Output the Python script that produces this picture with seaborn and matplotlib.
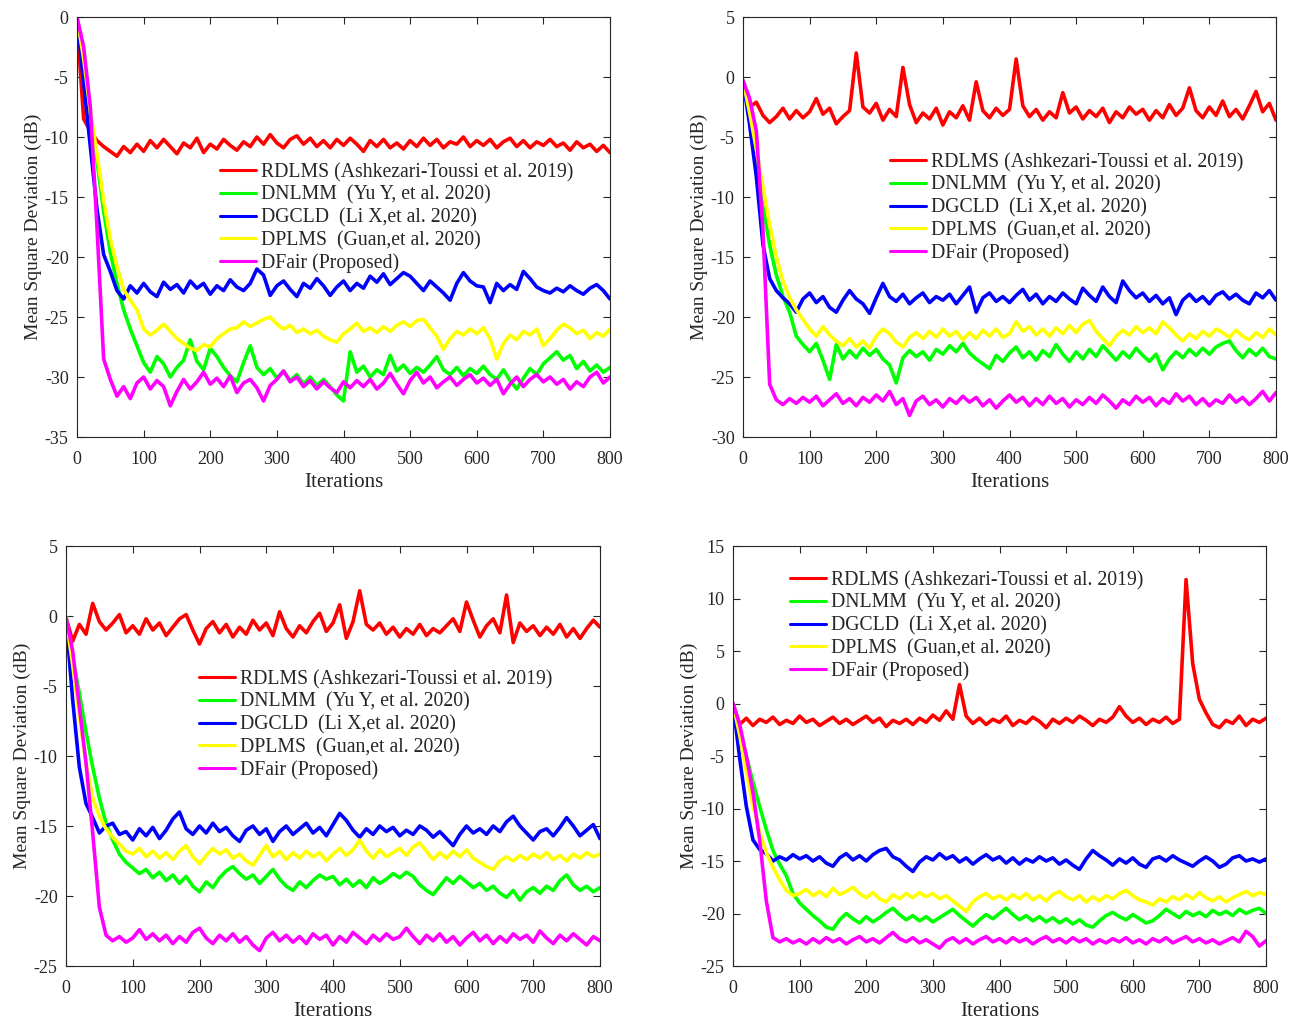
import numpy as np
import pandas as pd
import matplotlib
matplotlib.use("Agg")
import matplotlib.pyplot as plt
import seaborn as sns

iters = list(range(0, 801, 10))

methods = ["RDLMS (Ashkezari-Toussi et al. 2019)",
           "DNLMM  (Yu Y, et al. 2020)",
           "DGCLD  (Li X,et al. 2020)",
           "DPLMS  (Guan,et al. 2020)",
           "DFair (Proposed)"]
colors = ["#ff0000", "#00ff00", "#0000ff", "#ffff00", "#ff00ff"]

# ---- panel 1 (top left) ----
p1_rdlms = [-0.5, -8.5, -9.5, -10.3, -10.8, -11.2, -11.6, -10.8, -11.3, -10.6, -11.2, -10.3, -10.9, -10.2, -10.8,
            -11.4, -10.5, -10.9, -10.1, -11.3, -10.6, -11.0, -10.2, -10.7, -11.1, -10.4, -10.8, -10.0, -10.6, -9.8,
            -10.5, -10.9, -10.2, -9.9, -10.6, -10.1, -10.8, -10.3, -10.9, -10.2, -10.7, -10.1, -10.6, -11.2, -10.3,
            -10.8, -10.2, -10.9, -10.5, -11.0, -10.3, -10.8, -10.1, -10.7, -10.2, -10.9, -10.4, -10.6, -10.0, -10.8,
            -10.3, -10.7, -10.2, -10.9, -10.4, -10.1, -10.8, -10.3, -10.9, -10.4, -10.7, -10.2, -10.8, -10.5, -11.1,
            -10.4, -10.9, -10.6, -11.2, -10.7, -11.3]
p1_dnlmm = [0, -4, -8, -12, -16.2, -19.6, -22.2, -24.4, -26.0, -27.4, -28.8, -29.6, -28.3, -28.9, -30.0, -29.2,
            -28.6, -26.9, -28.7, -29.4, -27.6, -28.3, -29.2, -29.9, -30.4, -28.8, -27.4, -29.2, -29.8, -29.3, -30.1,
            -29.5, -30.3, -29.8, -30.6, -30.0, -30.7, -30.2, -30.8, -31.5, -32.0, -27.9, -29.6, -29.1, -30.0, -29.4,
            -29.8, -28.2, -29.5, -29.0, -29.7, -29.2, -29.6, -29.0, -28.3, -29.4, -29.8, -29.2, -29.9, -29.3, -29.7,
            -29.1, -29.8, -30.2, -29.4, -30.3, -31.0, -30.1, -29.3, -29.8, -28.9, -28.4, -27.9, -28.6, -28.2, -29.3,
            -28.7, -29.5, -29.0, -29.6, -29.2]
p1_dgcld = [0, -5.5, -10.8, -16, -19.8, -21.2, -22.8, -23.5, -22.4, -23.0, -22.2, -22.9, -23.3, -22.1, -22.7,
            -22.3, -23.0, -22.0, -22.6, -22.2, -23.1, -22.4, -22.8, -21.9, -22.5, -22.8, -22.2, -21.0, -21.5, -23.2,
            -22.4, -22.0, -22.7, -23.3, -22.2, -22.6, -21.8, -22.4, -23.2, -22.5, -22.0, -22.8, -22.2, -22.6, -21.6,
            -22.1, -21.4, -22.3, -21.8, -21.3, -21.6, -22.2, -22.8, -22.0, -22.5, -23.0, -23.6, -22.2, -21.3, -22.0,
            -22.4, -22.5, -23.8, -22.2, -22.8, -22.3, -22.7, -21.2, -21.8, -22.5, -22.8, -23.0, -22.6, -22.9, -22.4,
            -22.8, -23.1, -22.6, -22.3, -22.8, -23.5]
p1_dplms = [0, -3.5, -7.8, -11.4, -15.3, -18.5, -20.8, -22.7, -23.6, -24.4, -26.0, -26.5, -26.1, -25.6, -26.2,
            -26.8, -27.2, -27.6, -27.8, -27.3, -27.5, -26.8, -26.4, -26.0, -25.9, -25.4, -25.8, -25.5, -25.2, -25.0,
            -25.6, -26.0, -25.7, -26.3, -26.0, -26.4, -26.1, -26.6, -26.9, -27.1, -26.4, -26.0, -25.5, -26.2, -25.9,
            -26.3, -25.8, -26.2, -25.7, -25.4, -25.8, -25.3, -25.2, -25.9, -26.6, -27.7, -26.8, -26.2, -26.5, -26.0,
            -26.4, -25.9, -26.8, -28.5, -27.2, -26.5, -26.9, -26.2, -26.5, -26.0, -27.4, -26.8, -26.1, -25.6, -25.9,
            -26.4, -26.1, -26.8, -26.3, -26.6, -26.0]
p1_dfair = [0, -2.5, -7.5, -17.5, -28.5, -30.2, -31.6, -30.8, -31.8, -30.5, -30.0, -31.0, -30.3, -30.8, -32.4,
            -31.2, -30.2, -31.0, -30.4, -29.6, -30.6, -30.1, -30.8, -29.9, -31.3, -30.5, -30.2, -30.9, -32.0, -30.7,
            -30.2, -29.5, -30.4, -30.0, -30.8, -30.3, -31.0, -30.4, -30.9, -31.3, -30.4, -30.9, -30.3, -30.8, -30.2,
            -31.0, -30.5, -29.7, -30.6, -31.4, -30.3, -29.6, -30.5, -30.0, -30.9, -30.4, -30.0, -30.7, -30.2, -29.8,
            -30.5, -30.1, -30.7, -30.2, -31.4, -30.6, -30.0, -30.8, -30.2, -29.8, -30.4, -30.0, -30.6, -30.2, -31.0,
            -30.4, -30.8, -30.0, -29.6, -30.5, -30.0]

# ---- panel 2 (top right) ----
p2_rdlms = [-0.3, -2.5, -2.1, -3.2, -3.8, -3.3, -2.6, -3.5, -2.8, -3.4, -2.9, -1.8, -3.1, -2.6, -3.9, -3.3, -2.8,
            2.0, -2.5, -3.0, -2.2, -3.6, -2.7, -3.3, 0.8, -2.3, -3.8, -3.0, -3.5, -2.6, -4.0, -2.9, -3.4, -2.4, -3.6,
            -0.4, -2.8, -3.4, -2.6, -3.2, -2.7, 1.5, -2.4, -3.3, -2.7, -3.6, -2.9, -3.4, -1.3, -3.0, -2.5, -3.5, -2.8,
            -3.3, -2.6, -3.8, -2.9, -3.4, -2.5, -3.1, -2.7, -3.6, -2.8, -3.4, -2.3, -3.2, -2.6, -0.9, -2.8, -3.4, -2.5,
            -3.2, -2.0, -3.3, -2.7, -3.5, -2.4, -1.2, -2.9, -2.2, -3.6]
p2_dnlmm = [-0.3, -3.5, -7.0, -10.8, -14.0, -16.5, -18.3, -19.6, -21.6, -22.3, -22.9, -22.2, -23.6, -25.2, -22.3,
            -23.5, -22.8, -23.4, -22.6, -23.2, -22.7, -23.5, -24.0, -25.5, -23.4, -22.8, -23.3, -22.9, -23.6, -22.7,
            -23.1, -22.4, -22.9, -22.2, -23.0, -23.5, -23.9, -24.3, -23.2, -23.7, -23.0, -22.5, -23.4, -22.9, -23.6,
            -22.8, -23.3, -22.3, -23.1, -23.7, -22.9, -23.5, -22.7, -23.3, -22.4, -23.0, -23.6, -22.9, -23.4, -22.6,
            -23.2, -23.7, -23.1, -24.4, -23.5, -22.9, -23.4, -22.7, -23.2, -22.6, -23.1, -22.5, -22.2, -22.0, -22.8,
            -23.4, -22.7, -23.2, -22.6, -23.3, -23.5]
p2_dgcld = [-0.3, -4.0, -8.3, -14.0, -16.8, -17.8, -18.4, -18.9, -19.6, -18.5, -18.0, -18.8, -18.3, -19.2, -19.6,
            -18.6, -17.8, -18.5, -18.9, -19.7, -18.4, -17.2, -18.3, -18.7, -18.1, -18.9, -18.4, -18.0, -18.8, -18.3,
            -18.6, -18.1, -18.9, -18.2, -17.5, -19.6, -18.4, -18.0, -18.7, -18.3, -18.8, -18.2, -17.7, -18.6, -18.1,
            -18.9, -18.3, -18.7, -18.0, -18.5, -18.9, -17.6, -18.2, -18.7, -17.5, -18.3, -18.8, -17.0, -17.8, -18.4,
            -18.0, -18.7, -18.2, -18.9, -18.4, -19.8, -18.6, -18.1, -18.7, -18.3, -18.9, -18.2, -17.9, -18.5, -18.1,
            -18.6, -18.9, -18.0, -18.4, -17.8, -18.6]
p2_dplms = [-0.3, -3.0, -6.0, -9.2, -12.3, -15.0, -17.0, -18.4, -19.4, -20.2, -21.0, -21.6, -20.8, -21.5, -22.0,
            -22.4, -21.8, -22.5, -22.0, -22.6, -21.6, -21.0, -21.4, -22.1, -22.5, -21.7, -21.3, -21.8, -21.2, -21.7,
            -21.0, -21.6, -21.2, -21.9, -21.3, -21.8, -21.1, -21.6, -21.0, -21.7, -21.4, -20.4, -21.2, -20.8, -21.5,
            -21.0, -21.6, -20.9, -21.4, -20.7, -21.3, -20.6, -20.3, -21.2, -21.8, -22.4, -21.6, -21.1, -21.5, -20.8,
            -21.3, -20.9, -21.4, -20.4, -20.9, -21.5, -22.0, -21.4, -21.8, -21.2, -21.6, -21.0, -21.3, -21.7, -21.1,
            -21.6, -21.9, -21.3, -21.7, -21.0, -21.5]
p2_dfair = [-0.3, -1.8, -4.5, -12.8, -25.6, -26.9, -27.3, -26.8, -27.2, -26.7, -27.1, -26.6, -27.4, -26.9, -26.4,
            -27.2, -26.8, -27.4, -26.7, -27.1, -26.5, -27.0, -26.2, -27.3, -26.8, -28.2, -27.0, -26.6, -27.3, -26.9,
            -27.5, -26.8, -27.2, -26.6, -27.1, -26.7, -27.4, -26.9, -27.6, -27.0, -26.5, -27.1, -26.7, -27.4, -26.8,
            -27.3, -26.6, -27.2, -26.8, -27.5, -26.9, -27.3, -26.7, -27.2, -26.5, -27.0, -27.6, -26.9, -27.3, -26.6,
            -27.1, -26.7, -27.4, -26.8, -27.2, -26.4, -27.0, -26.6, -27.3, -26.8, -27.4, -26.9, -27.2, -26.5, -27.1,
            -26.7, -27.3, -26.8, -26.2, -27.0, -26.3]

# ---- panel 3 (bottom left) ----
p3_rdlms = [-0.1, -1.8, -0.6, -1.3, 0.9, -0.4, -1.0, -0.5, 0.1, -1.2, -0.7, -1.3, -0.2, -1.0, -0.5, -1.4, -0.8,
            -0.2, 0.1, -1.0, -2.0, -0.9, -0.4, -1.2, -0.6, -1.5, -0.8, -1.3, -0.3, -1.0, -0.5, -1.4, 0.3, -0.9, -1.5,
            -0.7, -1.2, -0.4, 0.2, -1.1, -0.5, 0.8, -1.6, -0.4, 1.8, -0.6, -1.0, -0.5, -1.3, -0.8, -1.5, -0.9, -1.3,
            -0.6, -1.4, -0.9, -1.2, -0.7, -0.2, -1.1, 1.0, -0.3, -1.5, -0.7, -0.2, -1.2, 1.5, -1.9, -0.5, -1.1, -0.7,
            -1.4, -0.8, -1.3, -0.6, -1.5, -0.9, -1.6, -0.9, -0.3, -0.8]
p3_dnlmm = [-0.1, -3.0, -5.5, -8.3, -10.8, -13.0, -14.8, -16.0, -17.0, -17.6, -18.0, -18.4, -18.1, -18.7, -18.3,
            -18.9, -18.5, -19.1, -18.6, -19.3, -19.7, -19.0, -19.4, -18.7, -18.2, -17.9, -18.4, -18.8, -18.5, -19.1,
            -18.6, -18.1, -18.8, -19.3, -19.6, -19.0, -19.4, -18.9, -18.5, -18.8, -18.6, -19.2, -18.8, -19.3, -18.9,
            -19.4, -18.7, -19.1, -18.8, -18.4, -18.7, -18.3, -18.6, -19.2, -19.6, -19.9, -19.3, -18.7, -19.1, -18.6,
            -19.0, -19.4, -19.1, -19.6, -19.3, -19.8, -20.1, -19.6, -20.3, -19.7, -19.4, -19.8, -19.3, -19.6, -18.9,
            -18.5, -19.2, -19.6, -19.3, -19.7, -19.4]
p3_dgcld = [-0.1, -6.0, -10.8, -13.4, -14.4, -15.5, -15.0, -14.8, -15.6, -15.4, -16.0, -15.2, -15.7, -15.1, -15.9,
            -15.3, -14.5, -14.0, -15.2, -15.6, -15.0, -15.5, -14.8, -15.4, -15.1, -15.7, -16.1, -15.3, -15.0, -15.6,
            -15.2, -16.1, -15.4, -15.0, -15.6, -15.2, -14.8, -15.5, -15.1, -15.7, -14.9, -14.1, -14.6, -15.3, -15.8,
            -15.2, -15.6, -15.0, -15.4, -15.1, -15.7, -15.3, -15.6, -15.0, -15.3, -15.8, -15.4, -15.9, -16.4, -15.6,
            -15.0, -15.5, -15.2, -15.6, -15.0, -15.4, -14.7, -14.3, -15.0, -15.5, -16.0, -15.4, -15.2, -15.7, -15.1,
            -14.4, -15.0, -15.7, -15.3, -14.9, -15.9]
p3_dplms = [-0.1, -3.5, -7.2, -10.5, -13.0, -14.3, -15.2, -15.8, -16.3, -16.8, -17.0, -16.6, -17.2, -16.8, -17.3,
            -16.9, -17.4, -16.8, -16.4, -17.2, -17.7, -17.1, -16.6, -17.0, -16.7, -17.3, -17.0, -17.5, -17.8, -17.1,
            -16.4, -17.2, -16.8, -17.4, -16.9, -17.3, -16.8, -17.2, -16.9, -17.5, -17.0, -16.6, -17.1, -16.7, -16.0,
            -16.8, -17.3, -16.7, -17.2, -16.9, -16.6, -17.1, -16.5, -16.2, -16.8, -17.4, -16.9, -17.3, -16.8, -17.2,
            -16.7, -17.3, -17.6, -17.9, -18.1, -17.5, -17.2, -17.5, -17.1, -17.4, -17.0, -17.3, -16.9, -17.4, -17.1,
            -17.5, -17.0, -17.3, -16.9, -17.2, -17.0]
p3_dfair = [-0.1, -2.5, -6.5, -10.5, -15.5, -20.8, -22.8, -23.2, -22.9, -23.3, -23.0, -22.4, -23.1, -22.7, -23.2,
            -22.8, -23.4, -22.9, -23.3, -22.6, -22.3, -23.0, -23.4, -22.8, -23.2, -22.7, -23.3, -22.9, -23.5, -23.9,
            -23.0, -22.6, -23.2, -22.8, -23.3, -22.9, -23.4, -22.7, -23.1, -22.8, -23.5, -22.9, -23.3, -22.6, -23.0,
            -23.4, -22.8, -23.2, -22.7, -23.1, -22.9, -22.3, -22.9, -23.4, -22.8, -23.2, -22.7, -23.3, -22.9, -23.5,
            -23.0, -22.6, -23.2, -22.8, -23.4, -22.9, -23.3, -22.7, -23.1, -22.8, -23.3, -22.5, -23.0, -23.4, -22.8,
            -23.2, -22.7, -23.1, -23.5, -22.9, -23.2]

# ---- panel 4 (bottom right) ----
p4_rdlms = [0.0, -2.0, -1.4, -2.1, -1.5, -1.8, -1.3, -2.0, -1.6, -1.9, -1.2, -1.8, -1.5, -2.1, -1.7, -1.3, -1.9,
            -1.5, -2.0, -1.6, -1.2, -1.8, -1.4, -2.2, -1.6, -1.9, -1.5, -2.0, -1.4, -1.8, -1.1, -1.6, -0.7, -1.5, 1.8,
            -1.2, -1.9, -1.4, -2.0, -1.5, -1.8, -1.2, -2.1, -1.6, -1.9, -1.3, -1.7, -2.3, -1.5, -1.9, -1.4, -1.8, -1.2,
            -1.6, -2.1, -1.5, -1.8, -1.3, -0.3, -1.2, -1.8, -1.4, -2.0, -1.5, -1.8, -1.3, -1.9, -1.5, 11.8, 3.8, 0.4,
            -0.9, -2.0, -2.3, -1.6, -1.9, -1.2, -2.1, -1.5, -1.8, -1.4]
p4_dnlmm = [0.0, -2.5, -5.0, -7.5, -9.8, -12.0, -14.0, -15.3, -16.4, -18.1, -19.0, -19.6, -20.2, -20.7, -21.3,
            -21.5, -20.6, -20.0, -20.5, -20.9, -20.3, -20.8, -20.4, -19.9, -19.5, -20.1, -20.6, -20.2, -20.7, -20.3,
            -20.8, -20.4, -20.0, -19.6, -20.2, -20.7, -21.2, -20.6, -20.1, -20.5, -20.0, -19.5, -20.1, -20.6, -20.2,
            -20.7, -20.3, -20.8, -20.4, -20.9, -20.5, -21.0, -20.6, -21.1, -21.3, -20.7, -20.2, -19.9, -20.3, -20.6,
            -20.1, -20.5, -20.9, -20.7, -20.2, -19.6, -20.0, -20.4, -19.8, -20.2, -19.9, -20.3, -19.7, -20.1, -19.8,
            -20.2, -19.6, -20.0, -19.7, -19.5, -20.0]
p4_dgcld = [0.0, -5.2, -9.8, -13.0, -13.9, -14.3, -15.0, -14.6, -14.9, -14.4, -14.8, -14.5, -15.0, -14.6, -15.2,
            -15.5, -14.7, -14.3, -14.9, -14.5, -15.0, -14.4, -14.0, -13.8, -14.6, -14.9, -15.5, -16.0, -15.1, -14.6,
            -14.9, -14.3, -14.8, -14.5, -15.1, -14.7, -15.3, -14.8, -14.4, -14.9, -14.6, -15.2, -14.7, -15.3, -14.8,
            -15.1, -14.6, -15.0, -14.7, -15.3, -14.9, -15.4, -15.8, -14.8, -14.0, -14.5, -14.9, -15.4, -14.8, -15.2,
            -14.7, -15.3, -15.6, -14.8, -14.6, -15.0, -14.5, -14.9, -15.2, -15.5, -15.0, -14.6, -15.0, -15.6, -15.3,
            -14.7, -14.5, -15.0, -14.8, -15.1, -14.8]
p4_dplms = [0.0, -3.0, -6.5, -9.8, -12.2, -14.2, -15.6, -16.8, -17.8, -18.3, -18.1, -17.7, -18.3, -17.9, -18.4,
            -17.6, -18.2, -17.9, -17.5, -18.1, -18.5, -18.0, -18.6, -18.9, -18.2, -18.6, -18.1, -18.5, -18.0, -18.4,
            -18.1, -18.6, -18.3, -18.8, -19.3, -19.8, -18.9, -18.4, -18.1, -18.6, -18.3, -18.7, -18.2, -18.6, -18.1,
            -18.7, -18.3, -18.8, -18.2, -17.9, -18.4, -18.7, -18.3, -18.9, -18.4, -18.8, -18.3, -18.6, -18.1, -17.8,
            -18.3, -18.7, -18.9, -19.2, -18.6, -18.9, -18.4, -18.7, -18.2, -18.6, -18.0, -18.5, -18.8, -18.4, -18.9,
            -18.5, -18.2, -17.9, -18.3, -18.0, -18.2]
p4_dfair = [0.0, -2.0, -5.0, -8.5, -13.0, -18.8, -22.3, -22.7, -22.4, -22.8, -22.5, -22.9, -22.4, -22.8, -22.3,
            -22.7, -22.4, -22.9, -22.5, -22.2, -22.7, -22.4, -22.8, -22.3, -21.8, -22.4, -22.7, -22.3, -22.8, -22.5,
            -22.9, -23.3, -22.6, -22.3, -22.8, -22.4, -22.9, -22.5, -22.2, -22.7, -22.4, -22.8, -22.3, -22.7, -22.4,
            -22.9, -22.5, -22.2, -22.7, -22.4, -22.8, -22.3, -22.7, -22.4, -22.9, -22.5, -22.8, -22.4, -22.7, -22.3,
            -22.8, -22.5, -22.9, -22.4, -22.7, -22.3, -22.8, -22.5, -22.2, -22.7, -22.4, -22.8, -22.5, -22.9, -22.6,
            -22.3, -22.7, -21.7, -22.2, -23.1, -22.6]

panels = [
    dict(series=[p1_rdlms, p1_dnlmm, p1_dgcld, p1_dplms, p1_dfair], ylim=(-35, 0), yticks=range(-35, 1, 5),
         rect=[77, 17, 610, 437], leg=(220, 170)),
    dict(series=[p2_rdlms, p2_dnlmm, p2_dgcld, p2_dplms, p2_dfair], ylim=(-30, 5), yticks=range(-30, 6, 5),
         rect=[743, 17, 1276, 437], leg=(890, 160)),
    dict(series=[p3_rdlms, p3_dnlmm, p3_dgcld, p3_dplms, p3_dfair], ylim=(-25, 5), yticks=range(-25, 6, 5),
         rect=[66, 546, 600, 966], leg=(199, 677)),
    dict(series=[p4_rdlms, p4_dnlmm, p4_dgcld, p4_dplms, p4_dfair], ylim=(-25, 15), yticks=range(-25, 16, 5),
         rect=[733, 546, 1266, 966], leg=(790, 578)),
]

sns.set_style("ticks")
plt.rcParams["font.family"] = ["Liberation Serif", "DejaVu Serif"]
plt.rcParams["axes.unicode_minus"] = False

W, H = 1306, 1022
fig = plt.figure(figsize=(W / 100, H / 100), dpi=100)

for p in panels:
    l, t, r, b = p["rect"]
    ax = fig.add_axes([l / W, 1 - b / H, (r - l) / W, (b - t) / H])
    rows = []
    for name, vals in zip(methods, p["series"]):
        for it, v in zip(iters, vals):
            rows.append((it, v, name))
    df = pd.DataFrame(rows, columns=["Iterations", "MSD", "Method"])
    sns.lineplot(data=df, x="Iterations", y="MSD", hue="Method", hue_order=methods,
                 palette=colors, linewidth=2.6, ax=ax, legend=True)
    ax.set_xlim(0, 800)
    ax.set_ylim(*p["ylim"])
    ax.set_xticks(range(0, 801, 100))
    ax.set_yticks(list(p["yticks"]))
    ax.tick_params(direction="in", top=True, right=True, length=5, width=0.8, labelsize=13)
    ax.tick_params(axis="x", pad=10)
    ax.tick_params(axis="y", pad=6)
    for s in ax.spines.values():
        s.set_linewidth(0.8)
        s.set_color("#262626")
    ax.set_xlabel("Iterations", fontsize=15, labelpad=4)
    ax.set_ylabel("Mean Square Deviation (dB)", fontsize=14, labelpad=2)
    lx, ly = p["leg"]
    h, lab = ax.get_legend_handles_labels()
    for hh in h:
        hh.set_linewidth(2.2)
    ax.legend(h, lab, loc="upper left", bbox_to_anchor=(lx / W, 1 - (ly - 7) / H),
              bbox_transform=fig.transFigure, frameon=False, fontsize=14.2,
              borderpad=0, borderaxespad=0, handlelength=1.85, handletextpad=0.25,
              labelspacing=0.17)

fig.savefig("out.png", dpi=100)
